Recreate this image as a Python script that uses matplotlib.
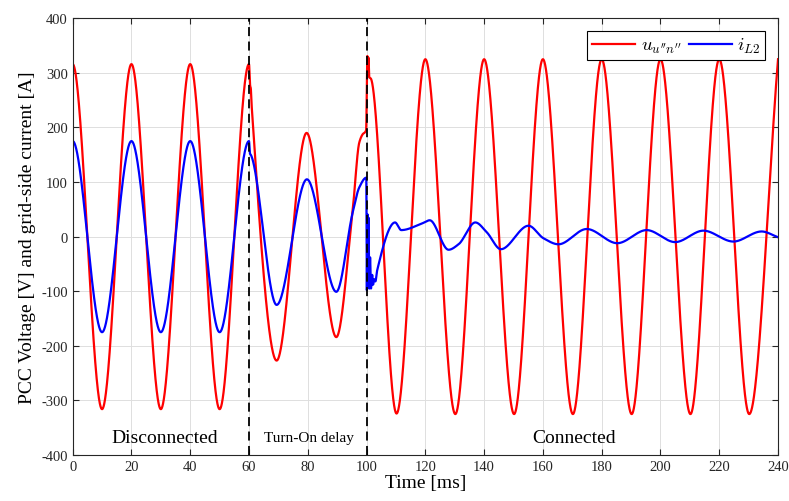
import numpy as np
import matplotlib
matplotlib.use("Agg")
import matplotlib.pyplot as plt

plt.rcParams['font.family'] = ['Liberation Serif', 'DejaVu Serif']
plt.rcParams['mathtext.fontset'] = 'cm'
plt.rcParams['axes.unicode_minus'] = False

# ---- data (time in ms, value) ----
# PCC voltage u_u''n''  (extrema / key points)
u_t = [0, 10, 20, 30, 40, 50, 60, 60.4, 60.6, 60.9,
       69.4, 79.6, 89.7, 95.3, 97.5, 98.6, 99.85, 100.25, 100.5, 100.65, 100.9, 101.4,
       110.2, 120, 130.2, 140, 150.2, 160, 170.2, 180, 190.2, 200, 210.2,
       220, 230.2, 240]
u_v = [316, -316, 316, -316, 316, -316, 316, 276, 272, 240,
       -227, 190, -184, 50, 172, 187, 195, 331, 312, 328, 292, 290,
       -324, 325, -325, 325, -325, 325, -325, 325, -325, 325, -325,
       325, -325, 325]

# grid-side current i_L2
i_t = [0, 10, 20, 30, 40, 50, 60, 60.3, 60.6,
       69.4, 79.7, 89.7, 95.3, 97.5, 99.9,
       100.1, 100.3, 100.5, 100.7, 100.9, 101.2, 101.5, 101.9, 102.2, 102.6, 103.0, 103.6,
       109.7, 111.8, 118.8, 121.5, 127.9, 131.3, 137.0, 140.9, 145.7,
       155.1, 160.2, 165.3, 174.9, 185.3, 195.3, 205.0, 214.6, 224.8, 234.4, 240]
i_v = [175, -175, 175, -175, 175, -175, 175, 152, 150,
       -125, 105, -101, 45, 90, 108,
       -99, 41, -92, 35, -95, -38, -95, -70, -88, -78, -82, -62,
       26, 12, 24, 30, -24, -14, 26, 8, -23,
       20, -3, -14, 14, -12, 12, -10, 11, -9, 9.5, -1]

x_ticks = list(range(0, 241, 20))
y_ticks = list(range(-400, 401, 100))
switch_times = [60, 100]
region_labels = ["Disconnected", "Turn-On delay", "Connected"]
region_x = [31.4, 80.3, 170.7]


def pchip(x, y, xn):
    x = np.asarray(x, float); y = np.asarray(y, float)
    h = np.diff(x); d = np.diff(y) / h
    m = np.zeros_like(y)
    for k in range(1, len(x) - 1):
        if d[k - 1] * d[k] <= 0:
            m[k] = 0.0
        else:
            w1 = 2 * h[k] + h[k - 1]; w2 = h[k] + 2 * h[k - 1]
            m[k] = (w1 + w2) / (w1 / d[k - 1] + w2 / d[k])
    m[0] = 0.0
    m[-1] = d[-1]
    idx = np.clip(np.searchsorted(x, xn) - 1, 0, len(x) - 2)
    hh = h[idx]; s = (xn - x[idx]) / hh
    h00 = 2 * s**3 - 3 * s**2 + 1; h10 = s**3 - 2 * s**2 + s
    h01 = -2 * s**3 + 3 * s**2; h11 = s**3 - s**2
    return h00 * y[idx] + h10 * hh * m[idx] + h01 * y[idx + 1] + h11 * hh * m[idx + 1]


tt = np.linspace(0, 240, 8000)
u_curve = pchip(u_t, u_v, tt)
i_curve = pchip(i_t, i_v, tt)

fig = plt.figure(figsize=(7.89, 5.02), dpi=100)
ax = fig.add_axes([0.0921, 0.0916, 0.894, 0.870])

ax.plot(tt, u_curve, color=(1, 0, 0), lw=1.6, label=r"$u_{u^{\prime\prime}n^{\prime\prime}}$")
ax.plot(tt, i_curve, color=(0, 0, 1), lw=1.6, label=r"$i_{L2}$")
for s in switch_times:
    ax.axvline(s, color='black', lw=1.3, ls=(0, (5, 3)), zorder=5)

ax.text(region_x[0], -368, region_labels[0], ha='center', va='center', fontsize=14)
ax.text(region_x[1], -368, region_labels[1], ha='center', va='center', fontsize=11)
ax.text(region_x[2], -368, region_labels[2], ha='center', va='center', fontsize=14)

ax.set_xlim(0, 240)
ax.set_ylim(-400, 400)
ax.set_xticks(x_ticks)
ax.set_yticks(y_ticks)
ax.grid(True, color=(0.87, 0.87, 0.87), lw=0.7)
ax.set_axisbelow(True)
ax.tick_params(direction='in', top=True, right=True, labelsize=10.5,
               colors=(0.15, 0.15, 0.15), length=4)
for sp in ax.spines.values():
    sp.set_color((0.15, 0.15, 0.15))
    sp.set_linewidth(0.8)
ax.set_xlabel("Time [ms]", fontsize=14, labelpad=1)
ax.set_ylabel("PCC Voltage [V] and grid-side current [A]", fontsize=14, labelpad=4)

leg = ax.legend(loc='upper right', ncol=2, fontsize=13.5, frameon=True, fancybox=False,
                edgecolor='black', framealpha=1, handlelength=2.3, handletextpad=0.3,
                columnspacing=0.4, borderpad=0.25, borderaxespad=0,
                bbox_to_anchor=(0.982, 0.970))
leg.get_frame().set_linewidth(0.8)

fig.savefig("out.png", dpi=100)
